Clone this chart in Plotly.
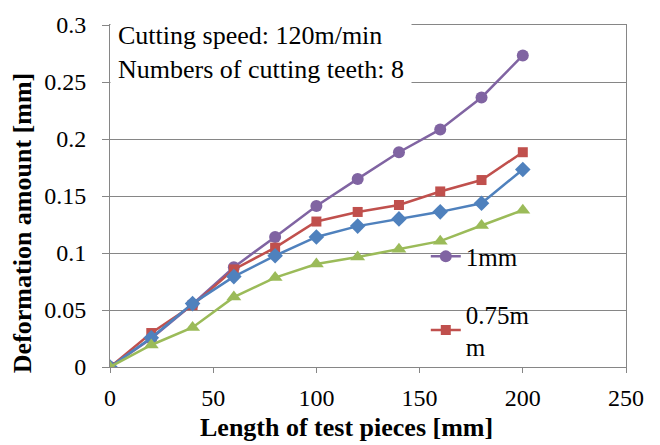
import plotly.graph_objects as go

# Length of test pieces [mm]
length_mm = [0, 20, 40, 60, 80, 100, 120, 140, 160, 180, 200]

# Deformation amount [mm] per depth of cut
defo_1mm = [0.0, 0.025, 0.055, 0.0876, 0.1141, 0.1413, 0.165, 0.1884, 0.2084, 0.2364, 0.2733]
defo_075mm = [0.0, 0.0298, 0.0542, 0.0856, 0.1047, 0.1276, 0.136, 0.1421, 0.154, 0.164, 0.1884]
defo_05mm = [0.0, 0.0256, 0.0556, 0.0793, 0.0976, 0.1141, 0.1236, 0.1299, 0.1361, 0.1436, 0.1733]
defo_025mm = [0.0, 0.0193, 0.0347, 0.0613, 0.0784, 0.0904, 0.0964, 0.1033, 0.1104, 0.1241, 0.1376]

FONT = "Liberation Serif"

series = [
    ("1mm", defo_1mm, "#8064A2", "circle", 12, True),
    ("0.75m<br>m", defo_075mm, "#C0504D", "square", 10, True),
    ("0.5mm", defo_05mm, "#4F81BD", "diamond", 12, False),
    ("0.25mm", defo_025mm, "#9BBB59", "triangle-up", 13, False),
]

fig = go.Figure()
for i, (name, vals, color, sym, size, show) in enumerate(series):
    fig.add_trace(go.Scatter(
        x=length_mm, y=vals, name=name, mode="lines+markers",
        line=dict(color=color, width=2.5),
        marker=dict(symbol=sym, size=size, color=color),
        showlegend=show, legendgroup=f"g{i}",
    ))

# Cutting conditions box
fig.add_annotation(
    x=0, y=1.035, xref="paper", yref="paper", xanchor="left", yanchor="top",
    text="Cutting speed: 120m/min<br>Numbers of cutting teeth: 8",
    showarrow=False, align="left", bgcolor="white", borderpad=7,
    font=dict(family=FONT, size=26, color="black"),
)

# Axis titles
fig.add_annotation(
    x=-0.169, y=0.42, xref="paper", yref="paper", textangle=-90,
    xanchor="center", yanchor="middle",
    text="<b>Deformation amount [mm]</b>", showarrow=False,
    font=dict(family=FONT, size=26, color="black"),
)
fig.add_annotation(
    x=0.458, y=-0.176, xref="paper", yref="paper",
    xanchor="center", yanchor="middle",
    text="<b>Length of test pieces [mm]</b>", showarrow=False,
    font=dict(family=FONT, size=26, color="black"),
)

axis_common = dict(
    showline=True, linecolor="#868686", linewidth=1, mirror=True,
    ticks="outside", tickcolor="#868686",
    tickfont=dict(family=FONT, size=24, color="black"),
    zeroline=False,
)

fig.update_xaxes(range=[0, 250], dtick=50, showgrid=False, ticklen=5,
                 ticklabelstandoff=4, **axis_common)
fig.update_yaxes(range=[0, 0.3], dtick=0.05, showgrid=True, gridcolor="#868686",
                 gridwidth=1, ticklen=7, ticklabelstandoff=11, **axis_common)

fig.update_layout(
    width=660, height=445,
    margin=dict(l=110, r=34, t=17, b=78),
    plot_bgcolor="white", paper_bgcolor="white",
    font=dict(family=FONT),
    legend=dict(
        x=0.612, y=0.39, xanchor="left", yanchor="top",
        bgcolor="rgba(0,0,0,0)", traceorder="grouped", tracegroupgap=22,
        font=dict(family=FONT, size=25, color="black"),
        itemwidth=30,
    ),
)

fig.write_html("out.html")
